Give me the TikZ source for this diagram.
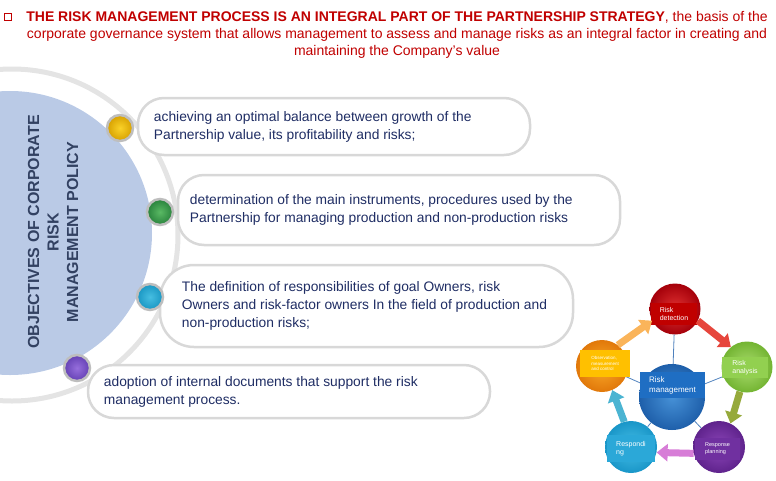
\documentclass[tikz,border=0pt]{standalone}
\usepackage{fontspec}
\setmainfont{Liberation Sans}
\usepackage{xcolor}
\usetikzlibrary{arrows.meta, positioning}

\definecolor{titlered}{RGB}{192,0,0}
\definecolor{navytext}{RGB}{31,45,100}
\definecolor{slatetext}{RGB}{50,65,98}
\definecolor{discblue}{RGB}{186,202,230}
\definecolor{arcgray}{RGB}{228,228,228}
\definecolor{boxgray}{RGB}{216,216,216}
\definecolor{dotring}{RGB}{190,190,190}
\definecolor{spokeblue}{RGB}{79,129,189}
\definecolor{coretagblue}{RGB}{31,110,195}
\definecolor{analysegreen}{RGB}{146,208,80}
\definecolor{planpurple}{RGB}{112,48,160}
\definecolor{respondcyan}{RGB}{43,168,216}
\definecolor{observegold}{RGB}{255,192,0}
\definecolor{flowamber}{RGB}{250,180,90}
\definecolor{flowred}{RGB}{230,70,60}
\definecolor{flowolive}{RGB}{150,170,60}
\definecolor{flowpink}{RGB}{215,125,215}
\definecolor{flowcyan}{RGB}{75,180,210}

\begin{document}
\begin{tikzpicture}[x=1pt, y=-1pt,
    itembox/.style={draw=boxgray, line width=2.5pt, fill=white, rounded corners=26pt, inner sep=0pt},
    itemtext/.style={anchor=west, align=left, text=navytext, inner sep=0pt, font=\fontsize{13.8}{18}\selectfont},
    dot/.style={circle, draw=dotring, line width=2.5pt, minimum size=26pt, inner sep=0pt},
    stage/.style={circle, minimum size=51pt, inner sep=0pt},
    tag/.style={text=white, align=left, inner sep=1pt, font=\fontsize{7}{8}\selectfont},
    spoke/.style={spokeblue, line width=0.8pt},
    flow/.style={line width=7pt, -{Triangle[width=17pt,length=11pt]}}
]
\useasboundingbox (0,0) rectangle (776,480);

\begin{scope}
\clip (0,0) rectangle (776,480);
\fill[discblue] (10,233) circle (142pt);
\draw[arcgray, line width=5pt] (12,235) circle (166pt);
\end{scope}

\node[draw=titlered, line width=1.2pt, minimum size=7pt, inner sep=0pt] (mark) at (8,17) {};
\node[align=center, text=titlered, inner sep=0pt, font=\fontsize{14}{17}\selectfont] (head) at (397,35)
  {\textbf{THE RISK MANAGEMENT PROCESS IS AN INTEGRAL PART OF THE PARTNERSHIP STRATEGY}, the basis of the\\
   corporate governance system that allows management to assess and manage risks as an integral factor in creating and\\
   maintaining the Company's value};

\node[rotate=90, align=center, text=slatetext, inner sep=0pt, font=\bfseries\fontsize{16}{19.5}\selectfont] (goal) at (53,232)
  {OBJECTIVES OF CORPORATE\\RISK\\MANAGEMENT POLICY};

\node[itembox, minimum width=392pt, minimum height=57pt] (item1) at (334,126.5) {};
\node[itembox, minimum width=442pt, minimum height=70pt] (item2) at (399,210) {};
\node[itembox, minimum width=413pt, minimum height=82pt, rounded corners=34pt] (item3) at (366.5,306) {};
\node[itembox, minimum width=402pt, minimum height=53pt] (item4) at (289,391.5) {};

\node[itemtext] (text1) at ([xshift=17pt]item1.west)
  {achieving an optimal balance between growth of the\\Partnership value, its profitability and risks;};
\node[itemtext] (text2) at ([xshift=13pt]item2.west)
  {determination of the main instruments, procedures used by the\\Partnership for managing production and non-production risks};
\node[itemtext] (text3) at ([xshift=23pt]item3.west)
  {The definition of responsibilities of goal Owners, risk\\Owners and risk-factor owners In the field of production and\\non-production risks;};
\node[itemtext] (text4) at ([xshift=17pt]item4.west)
  {adoption of internal documents that support the risk\\management process.};

\node[dot, inner color={rgb,255:red,250;green,210;blue,40}, outer color={rgb,255:red,215;green,160;blue,0}] (dot1) at (120,128) {};
\node[dot, inner color={rgb,255:red,90;green,185;blue,100}, outer color={rgb,255:red,40;green,130;blue,60}] (dot2) at (160,212) {};
\node[dot, inner color={rgb,255:red,70;green,190;blue,225}, outer color={rgb,255:red,25;green,150;blue,195}] (dot3) at (150,297) {};
\node[dot, inner color={rgb,255:red,150;green,110;blue,220}, outer color={rgb,255:red,100;green,65;blue,180}] (dot4) at (77,368) {};

\node[stage, minimum size=66pt, inner color={rgb,255:red,70;green,145;blue,215}, outer color={rgb,255:red,30;green,95;blue,170}] (core) at (672,397) {};
\node[stage, inner color={rgb,255:red,225;green,50;blue,50}, outer color={rgb,255:red,165;green,0;blue,10}] (detect) at (675,309) {};
\node[stage, inner color={rgb,255:red,170;green,220;blue,110}, outer color={rgb,255:red,115;green,180;blue,50}] (analyse) at (747,367) {};
\node[stage, minimum size=52pt, inner color={rgb,255:red,140;green,70;blue,185}, outer color={rgb,255:red,95;green,35;blue,140}] (plan) at (719,447) {};
\node[stage, minimum size=52pt, inner color={rgb,255:red,70;green,190;blue,230}, outer color={rgb,255:red,25;green,150;blue,200}] (respond) at (631,447) {};
\node[stage, minimum size=52pt, inner color={rgb,255:red,250;green,170;blue,40}, outer color={rgb,255:red,225;green,120;blue,10}] (observe) at (602,366) {};

\draw[spoke] (core) -- (detect);
\draw[spoke] (core) -- (analyse);
\draw[spoke] (core) -- (plan);
\draw[spoke] (core) -- (respond);
\draw[spoke] (core) -- (observe);

\node[tag, fill=coretagblue, minimum width=65pt, minimum height=26pt, font=\fontsize{8}{10}\selectfont] (coretag) at (672.5,385) {Risk\\management};
\node[tag, fill=titlered, minimum width=46pt, minimum height=22pt] (detecttag) at (674,314) {Risk\\detection};
\node[tag, fill=analysegreen, minimum width=46pt, minimum height=21pt] (analysetag) at (745,367.5) {Risk\\analysis};
\node[tag, fill=planpurple, minimum width=45pt, minimum height=22pt, font=\fontsize{5.5}{7}\selectfont] (plantag) at (717.5,449) {Response\\planning};
\node[tag, fill=respondcyan, minimum width=48pt, minimum height=27pt] (respondtag) at (631,448.5) {Respondi\\ng};
\node[tag, fill=observegold, minimum width=50pt, minimum height=27pt, font=\fontsize{4.5}{5.5}\selectfont] (observetag) at (605,363.5) {Observation,\\measurement\\and control};

\draw[flow, flowamber] (observe.53) -- (detect.207);
\draw[flow, flowred] (detect.-27) -- (analyse.129);
\draw[flow, flowolive] (analyse.254) -- (plan.64);
\draw[flow, flowpink] (plan.194) -- (respond.-12);
\draw[flow, flowcyan] (respond.105) -- (observe.-67);
\end{tikzpicture}
\end{document}
